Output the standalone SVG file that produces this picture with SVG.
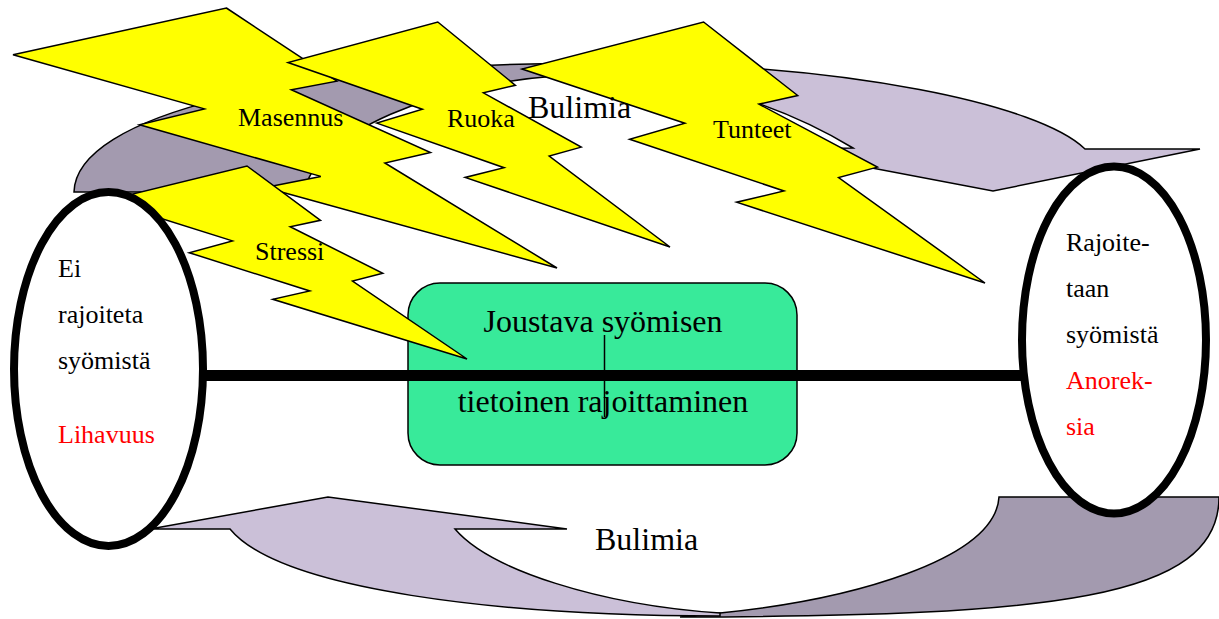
<svg xmlns="http://www.w3.org/2000/svg" width="1219" height="619" viewBox="0 0 1219 619">
<style>
.dark{fill:#A39AAF;stroke:#000;stroke-width:1.5;stroke-linejoin:miter}
.light{fill:#CBC0D8;stroke:#000;stroke-width:1.5;stroke-linejoin:miter}
.bolt{fill:#FFFF00;stroke:#000;stroke-width:1.5;stroke-linejoin:miter}
.ell{fill:#fff;stroke:#000;stroke-width:8}
.t{font-family:"Liberation Serif","Times New Roman",serif;fill:#000}
.s26{font-size:26px}
.s32{font-size:32px}
.red{fill:#FF0000}
</style>
<rect width="1219" height="619" fill="#fff"/>
<g id="connectors">
  <g id="top-arrow">
    <path class="dark" d="M74,192 C76,115 290,63 600,63 L600,74 C430,76 310,140 305,192 Z"/>
    <path class="light" d="M600,63 C850,63 1040,105 1085,149 L1200,149 L993,191 L772,149 L853,148 C790,110 700,76 600,74 Z"/>
  </g>
  <g id="bottom-arrow">
    <path class="dark" d="M999,497 L1219,497 C1219,600 1050,616 680,617 L720,613 C850,600 995,560 999,497 Z"/>
    <path class="light" d="M150,529 L328,497 L567,529 L455,529 C490,570 600,605 720,613 L720,616 C500,616 280,590 230,529 Z"/>
  </g>
</g>
<g id="node-center">
  <rect x="408" y="283" width="389" height="182" rx="32" ry="32" fill="#38EA9A" stroke="#000" stroke-width="1.5"/>
  <text class="t s32" x="603" y="332" text-anchor="middle">Joustava syömisen</text>
  <text class="t s32" x="603" y="412" text-anchor="middle">tietoinen rajoittaminen</text>
</g>
<g id="connector-axis">
  <line x1="206" y1="375.5" x2="1022" y2="375.5" stroke="#000" stroke-width="11"/>
</g>
<g id="bolt-masennus">
  <polygon class="bolt" points="226.4,8 336.9,81.2 291.3,89.8 430.5,152.5 384.9,163 557,268 265.1,187.5 320.8,176.4 139.5,124.8 204.4,108.9 13,54.8"/>
  <text class="t s26" x="238" y="126">Masennus</text>
</g>
<g id="bolt-ruoka">
  <polygon class="bolt" points="437.8,22 515.4,85.3 483.4,92.8 581.2,147.1 549.2,156.1 670,247 465.1,177.4 504.1,167.7 376.8,123.1 422.4,109.3 288,62.5"/>
  <text class="t s26" x="447" y="127">Ruoka</text>
</g>
<g id="bolt-tunteet">
  <polygon class="bolt" points="703.6,22 797.7,95.5 758.9,104.1 877.4,167.1 838.6,177.6 985,283 736.6,202.2 784,191 629.6,139.3 684.9,123.3 522,69"/>
  <text class="t s26" x="713" y="138">Tunteet</text>
</g>
<g id="bolt-stressi">
  <polygon class="bolt" points="247,166 320.5,220.3 290.2,226.7 382.8,273.3 352.5,281.1 467,359 272.8,299.3 309.8,291 189.2,252.7 232.4,240.9 105,200.8"/>
  <text class="t s26" x="255" y="260">Stressi</text>
</g>
<g id="node-left">
  <ellipse class="ell" cx="108.5" cy="369" rx="94.5" ry="177"/>
  <text class="t s26" x="58" y="277">Ei</text>
  <text class="t s26" x="58" y="323">rajoiteta</text>
  <text class="t s26" x="58" y="369">syömistä</text>
  <text class="t s26 red" x="58" y="443">Lihavuus</text>
</g>
<g id="node-right">
  <ellipse class="ell" cx="1114" cy="340" rx="92" ry="173.5"/>
  <text class="t s26" x="1066" y="251">Rajoite-</text>
  <text class="t s26" x="1066" y="297">taan</text>
  <text class="t s26" x="1066" y="343">syömistä</text>
  <text class="t s26 red" x="1066" y="389">Anorek-</text>
  <text class="t s26 red" x="1066" y="435">sia</text>
</g>
<g id="labels">
  <text class="t s32" x="528" y="118">Bulimia</text>
  <text class="t s32" x="595" y="550">Bulimia</text>
</g>
<line id="tick" x1="604.5" y1="335" x2="604.5" y2="417" stroke="#000" stroke-width="1.5"/>
</svg>
